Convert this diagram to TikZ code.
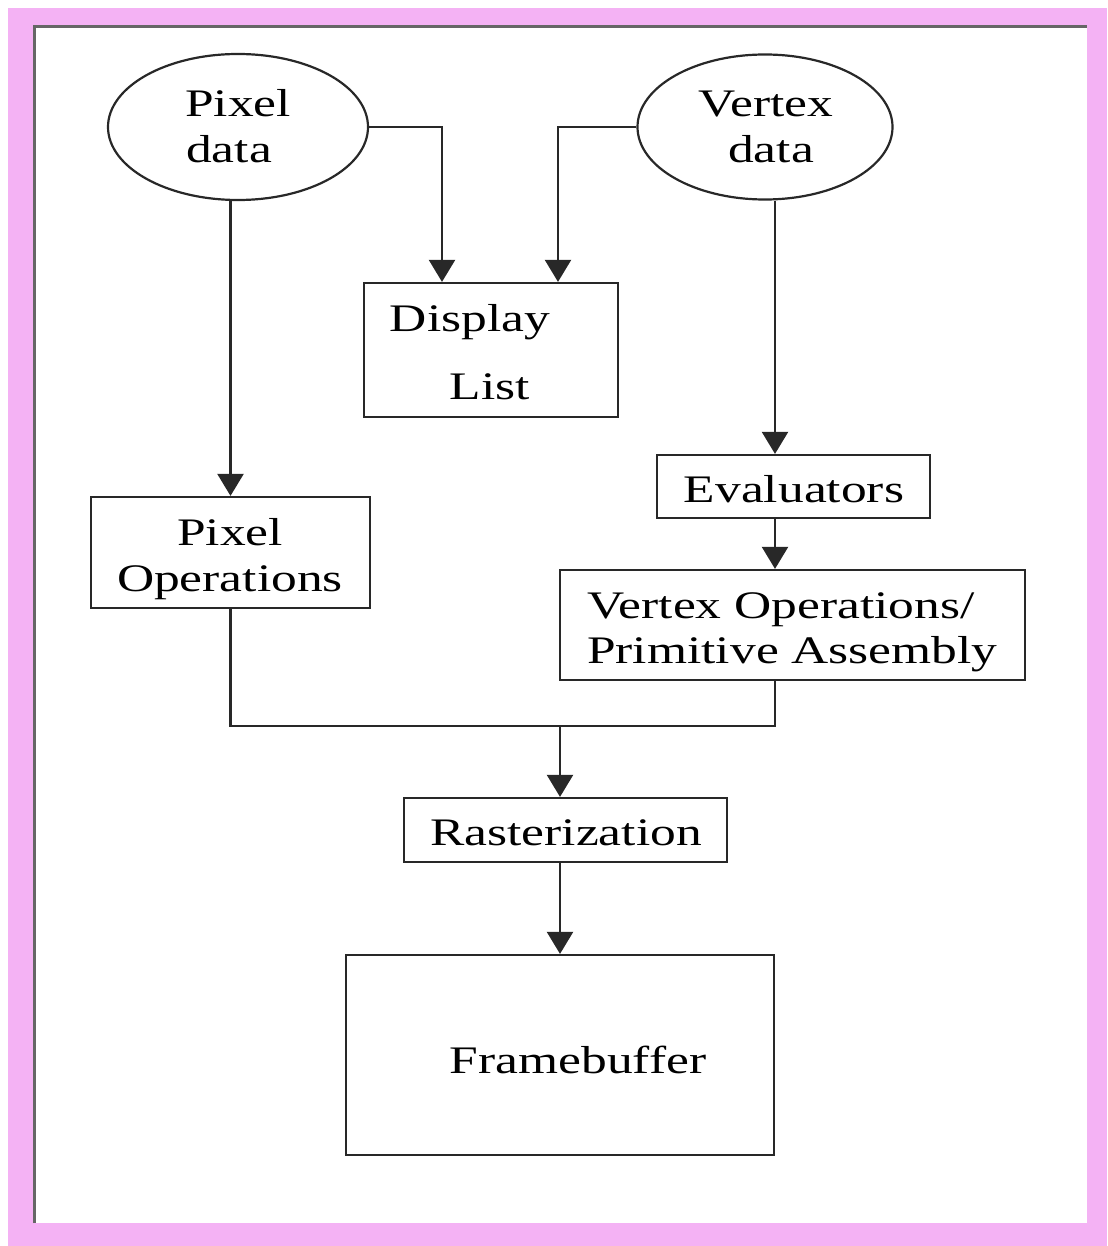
\documentclass[tikz,border=0pt]{standalone}
\usepackage{fontspec}
\setmainfont[FakeStretch=1.32]{Liberation Serif}
\usetikzlibrary{arrows.meta,shapes.geometric}
\definecolor{framepink}{RGB}{244,178,244}
\definecolor{lineg}{RGB}{40,40,40}
\begin{document}
\begin{tikzpicture}[x=1pt,y=-1pt,
  every node/.style={font=\fontsize{39}{46}\selectfont, inner sep=0pt, text=black},
  boxn/.style={draw=lineg, line width=2.2pt, rectangle},
  ell/.style={draw=lineg, line width=2.2pt, ellipse},
  txt/.style={anchor=base},
  conn/.style={draw=lineg, line width=2.2pt},
  arr/.style={conn, -{Triangle[width=26pt,length=22pt]}}]
\useasboundingbox (0,0) rectangle (1107,1246);
% frame
\fill[framepink] (8,8) rectangle (1107,1246);
\fill[white] (33,25) rectangle (1087,1223);
\draw[black!60, line width=3pt] (34.5,1223) -- (34.5,26.5) -- (1087,26.5);
% nodes
\node[ell, minimum width=260pt, minimum height=146pt] (pix) at (238,127) {};
\node[txt] (pixA) at (238,117) {Pixel};
\node[txt] (pixB) at (229,163) {data};
\node[ell, minimum width=255pt, minimum height=145pt] (vtx) at (765,127) {};
\node[txt] (vtxA) at (766,117) {Vertex};
\node[txt] (vtxB) at (771,163) {data};
\node[boxn, minimum width=254pt, minimum height=134pt] (dl) at (491,350) {};
\node[txt] (dlA) at (470,331) {Display};
\node[txt] (dlB) at (490,399) {List};
\node[boxn, minimum width=279pt, minimum height=111pt] (po) at (230.5,552.5) {};
\node[txt] (poA) at (230,545) {Pixel};
\node[txt] (poB) at (230,591) {Operations};
\node[boxn, minimum width=273pt, minimum height=63pt] (ev) at (793.5,486.5) {};
\node[txt] (evT) at (794,502) {Evaluators};
\node[boxn, minimum width=465pt, minimum height=110pt] (vo) at (792.5,625) {};
\node[txt, anchor=base west] (voA) at (587,618) {Vertex Operations/};
\node[txt, anchor=base west] (voB) at (587,663) {Primitive Assembly};
\node[boxn, minimum width=323pt, minimum height=64pt] (ra) at (565.5,830) {};
\node[txt] (raT) at (566,845) {Rasterization};
\node[boxn, minimum width=428pt, minimum height=200pt] (fb) at (560,1055) {};
\node[txt] (fbT) at (578,1073) {Framebuffer};
\coordinate (j) at (560,726);
% connectors
\draw[arr] (pix.east) -| ([xshift=-49pt]dl.north);
\draw[arr] (vtx.west) -| ([xshift=67pt]dl.north);
\draw[arr] (po.north |- pix.south) -- (po.north);
\draw[arr] ([xshift=10pt]vtx.south) -- ([xshift=10pt]vtx.south |- ev.north);
\draw[arr] ([xshift=-18.5pt]ev.south) -- ([xshift=-18.5pt]ev.south |- vo.north);
\draw[conn] (po.south) |- (j) -| ([xshift=-17.5pt]vo.south);
\draw[arr] (j) -- (j |- ra.north);
\draw[arr] (ra.south -| fb.north) -- (fb.north);
\end{tikzpicture}
\end{document}
